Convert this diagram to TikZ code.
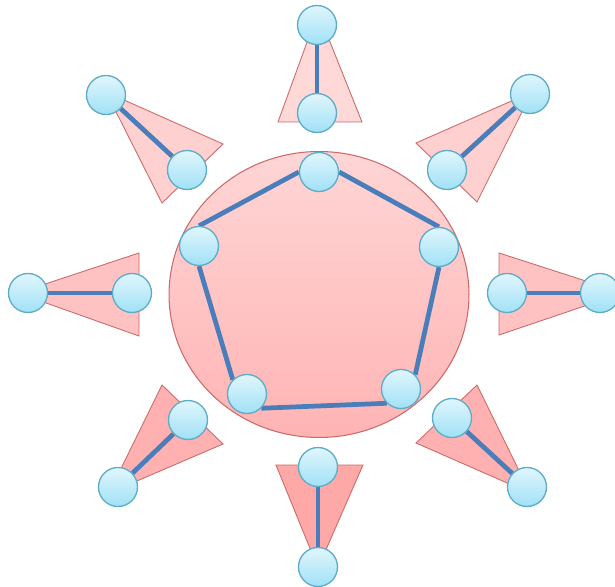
\documentclass[tikz,border=0pt]{standalone}
\usepackage{tikz}
\usepackage{xcolor}
\usetikzlibrary{positioning, backgrounds}
\definecolor{cEdge}{RGB}{74,126,187}
\definecolor{cVtxTop}{RGB}{224,246,253}
\definecolor{cVtxBot}{RGB}{160,225,246}
\definecolor{cVtxLine}{RGB}{95,172,200}
\definecolor{cPinkLight}{RGB}{255,216,216}
\definecolor{cPinkDark}{RGB}{255,160,160}
\definecolor{cPinkLine}{RGB}{205,105,105}
\tikzset{
	vtx/.style ={circle, draw=cVtxLine, line width=0.75pt, minimum size=0.78cm, inner sep=0pt, top color=cVtxTop, bottom color=cVtxBot},
	link/.style={draw=cEdge, line width=2.7pt},
	% pink shapes
	ray/.style ={draw=cPinkLine, line width=0.5pt},
	hub/.style ={draw=cPinkLine, line width=0.6pt, top color=cPinkLight!95!cPinkDark, bottom color=cPinkDark!65!cPinkLight},
}

\begin{document}
\begin{tikzpicture}[x=0.02cm, y=-0.02cm]
	\useasboundingbox (0,0) rectangle (615,587);
	% pentagon on the disc
	\node[vtx] (pN)  at (319,172) {};
	\node[vtx] (pE)  at (439,247) {};
	\node[vtx] (pSE) at (401,389) {};
	\node[vtx] (pSW) at (247,394) {};
	\node[vtx] (pW)  at (199,246) {};
	% rays, inner and outer ends
	\node[vtx] (iN)  at (317,113) {};
	\node[vtx] (oN)  at (317,25) {};
	\node[vtx] (iNE) at (447,170) {};
	\node[vtx] (oNE) at (530,94) {};
	\node[vtx] (iE)  at (507,293) {};
	\node[vtx] (oE)  at (600,293) {};
	\node[vtx] (iSE) at (452,418) {};
	\node[vtx] (oSE) at (527,487) {};
	\node[vtx] (iS)  at (318,467) {};
	\node[vtx] (oS)  at (318,567) {};
	\node[vtx] (iSW) at (188,420) {};
	\node[vtx] (oSW) at (118,487) {};
	\node[vtx] (iW)  at (132,293) {};
	\node[vtx] (oW)  at (28,293) {};
	\node[vtx] (iNW) at (187,170) {};
	\node[vtx] (oNW) at (106,95) {};
	\begin{scope}[on background layer]
		\draw[hub] (319,294.5) ellipse [x radius=3cm, y radius=2.86cm];
		\draw[ray, fill=cPinkLight] (278,122) -- (362,122) -- (318,12) -- cycle;
		\draw[ray, fill=cPinkLight!85!cPinkDark] (416,143) -- (477,202) -- (532,92) -- cycle;
		\draw[ray, fill=cPinkLight!60!cPinkDark] (499,253) -- (499,335) -- (623,293) -- cycle;
		\draw[ray, fill=cPinkLight!30!cPinkDark] (477,385) -- (416,443) -- (530,493) -- cycle;
		\draw[ray, fill=cPinkLight!15!cPinkDark] (276,465) -- (363,465) -- (318,568) -- cycle;
		\draw[ray, fill=cPinkLight!30!cPinkDark] (162,385) -- (223,444) -- (109,493) -- cycle;
		\draw[ray, fill=cPinkLight!60!cPinkDark] (139,253) -- (139,336) -- (18,293) -- cycle;
		\draw[ray, fill=cPinkLight!85!cPinkDark] (223,144) -- (162,203) -- (106,92) -- cycle;
		\draw[link] (pN.west) -- (pW.north);
		\draw[link] (pW.south) -- (pSW.north west);
		\draw[link] (pSW.south east) -- (pSE.south west);
		\draw[link] (pSE.north east) -- (pE.south);
		\draw[link] (pE.north) -- (pN.east);
		\draw[link] (iN) -- (oN);
		\draw[link] (iNE) -- (oNE);
		\draw[link] (iE) -- (oE);
		\draw[link] (iSE) -- (oSE);
		\draw[link] (iS) -- (oS);
		\draw[link] (iSW) -- (oSW);
		\draw[link] (iW) -- (oW);
		\draw[link] (iNW) -- (oNW);
	\end{scope}
\end{tikzpicture}
\end{document}
